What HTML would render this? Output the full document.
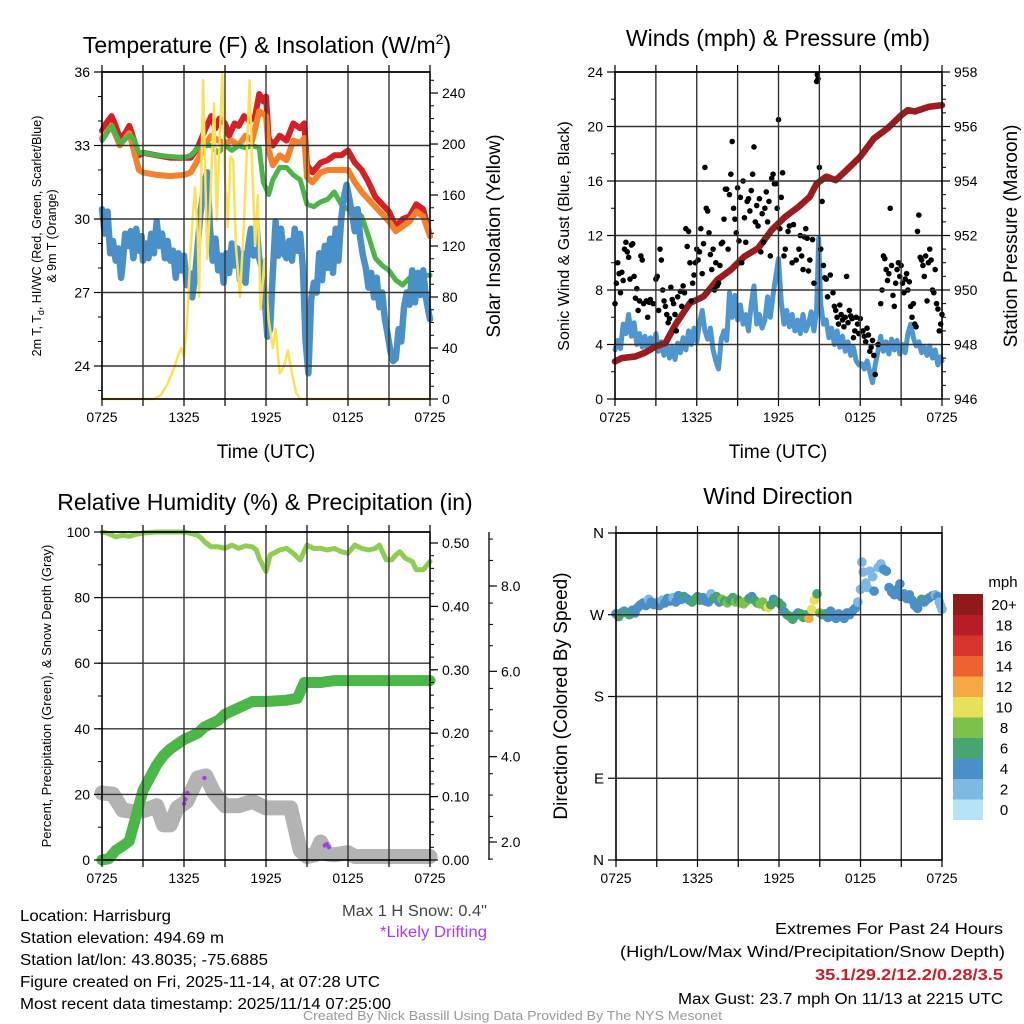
<!DOCTYPE html>
<html><head><meta charset="utf-8"><style>
html,body{margin:0;padding:0;background:#fff;}
svg{display:block;font-family:"Liberation Sans",sans-serif;}
</style></head><body>
<svg id="chart" width="1024" height="1024" viewBox="0 0 1024 1024" xmlns="http://www.w3.org/2000/svg">
<rect width="1024" height="1024" fill="#fff"/>
<g id="marks"></g>
<g id="frames"></g>
<text x="267" y="53" font-size="23" text-anchor="middle">Temperature (F) &amp; Insolation (W/m<tspan font-size="14" dy="-9">2</tspan><tspan dy="9">)</tspan></text>
<text x="778" y="46" font-size="23" text-anchor="middle">Winds (mph) &amp; Pressure (mb)</text>
<text x="265" y="510" font-size="23" text-anchor="middle">Relative Humidity (%) &amp; Precipitation (in)</text>
<text x="778" y="504" font-size="23" text-anchor="middle">Wind Direction</text>
<text x="266" y="458" font-size="19" text-anchor="middle">Time (UTC)</text>
<text x="778" y="458" font-size="19" text-anchor="middle">Time (UTC)</text>
<text transform="translate(41,236) rotate(-90)" font-size="12.5" text-anchor="middle">2m T, T<tspan font-size="9" dy="3">d</tspan><tspan dy="-3">, HI/WC (Red, Green, Scarlet/Blue)</tspan></text>
<text transform="translate(56,236) rotate(-90)" font-size="12.5" text-anchor="middle">&amp; 9m T (Orange)</text>
<text transform="translate(500,236) rotate(-90)" font-size="19" text-anchor="middle">Solar Insolation (Yellow)</text>
<text transform="translate(569,236) rotate(-90)" font-size="16" text-anchor="middle">Sonic Wind &amp; Gust (Blue, Black)</text>
<text transform="translate(1017,236) rotate(-90)" font-size="19" text-anchor="middle">Station Pressure (Maroon)</text>
<text transform="translate(51,696) rotate(-90)" font-size="13" text-anchor="middle">Percent, Precipitation (Green), &amp; Snow Depth (Gray)</text>
<text transform="translate(567,696) rotate(-90)" font-size="19" text-anchor="middle">Direction (Colored By Speed)</text>
<text x="1003" y="587" font-size="15" text-anchor="middle">mph</text>
<g font-size="15.5">
<text x="20" y="921" textLength="151" lengthAdjust="spacingAndGlyphs">Location: Harrisburg</text>
<text x="20" y="943" textLength="204" lengthAdjust="spacingAndGlyphs">Station elevation: 494.69 m</text>
<text x="20" y="965" textLength="248" lengthAdjust="spacingAndGlyphs">Station lat/lon: 43.8035; -75.6885</text>
<text x="20" y="987" textLength="360" lengthAdjust="spacingAndGlyphs">Figure created on Fri, 2025-11-14, at 07:28 UTC</text>
<text x="20" y="1009" textLength="371" lengthAdjust="spacingAndGlyphs">Most recent data timestamp: 2025/11/14 07:25:00</text>
<text x="342" y="916" textLength="145" lengthAdjust="spacingAndGlyphs" fill="#444">Max 1 H Snow: 0.4"</text>
<text x="380" y="937" textLength="107" lengthAdjust="spacingAndGlyphs" fill="#a83ef0">*Likely Drifting</text>
<text x="775" y="934" textLength="228" lengthAdjust="spacingAndGlyphs">Extremes For Past 24 Hours</text>
<text x="620" y="957" textLength="385" lengthAdjust="spacingAndGlyphs">(High/Low/Max Wind/Precipitation/Snow Depth)</text>
<text x="815" y="980" textLength="188" lengthAdjust="spacingAndGlyphs" fill="#c8202a" font-weight="bold">35.1/29.2/12.2/0.28/3.5</text>
<text x="678" y="1004" textLength="325" lengthAdjust="spacingAndGlyphs">Max Gust: 23.7 mph On 11/13 at 2215 UTC</text>
</g>
<text x="303" y="1020" font-size="12.5" textLength="419" lengthAdjust="spacingAndGlyphs" fill="#999">Created By Nick Bassill Using Data Provided By The NYS Mesonet</text>
</svg>
<script>
// ---------- DATA ----------
const xTickLabels = ["0725","1325","1925","0125","0725"];
const tempRed = [[0,33.6],[0.3,33.9],[0.7,34.2],[1,33.8],[1.3,33.3],[1.7,33.5],[2,33.8],[2.3,33.3],[2.7,32.6],[3,32.7],[4,32.6],[5,32.5],[6,32.5],[6.5,32.5],[7,32.9],[7.5,33.6],[8,34.2],[8.3,33.7],[8.6,34.1],[9,33.9],[9.3,33.4],[9.7,33.9],[10,33.8],[10.4,34.2],[10.8,34.0],[11.2,34.2],[11.5,35.1],[11.8,34.8],[12,35.0],[12.2,33.3],[12.5,33.0],[13,33.4],[13.5,33.2],[14,33.9],[14.5,33.7],[14.8,33.9],[15,32.2],[15.4,31.9],[16,32.3],[16.5,32.4],[17,32.6],[17.5,32.6],[18,32.8],[18.5,32.3],[19,32.0],[19.5,31.5],[20,30.9],[20.5,30.6],[21,30.3],[21.5,29.7],[22,30.0],[22.5,30.1],[23,30.6],[23.5,30.4],[24,29.3]];
const tempOrange = [[0,33.3],[0.7,33.8],[1.3,33.0],[2,33.5],[2.7,32.0],[3,31.9],[4,31.8],[5,31.75],[6,31.8],[6.5,31.9],[7,32.4],[7.5,33.0],[8,33.4],[8.5,33.2],[9,33.1],[9.5,33.2],[10,33.0],[10.5,33.4],[11,33.2],[11.5,34.4],[12,34.2],[12.2,32.8],[12.5,32.2],[13,32.6],[13.5,32.4],[14,33.2],[14.5,33.1],[14.8,33.3],[15,31.7],[15.4,31.5],[16,31.9],[16.5,32.0],[17,32.0],[18,32.0],[18.5,31.5],[19,31.1],[19.5,30.8],[20,30.5],[20.5,30.2],[21,29.9],[21.5,29.5],[22,29.7],[22.5,29.9],[23,30.3],[23.5,30.1],[24,29.3]];
const tempGreen = [[0,33.2],[0.7,33.8],[1.3,33.1],[2,33.4],[2.3,33.3],[2.7,32.7],[3,32.7],[4,32.6],[5,32.55],[6,32.5],[6.5,32.6],[7,32.9],[7.5,33.0],[8,33.0],[8.5,32.7],[9,33.0],[9.5,32.8],[10,33.0],[10.5,32.9],[11,33.0],[11.5,32.9],[11.8,31.5],[12.2,31.0],[12.5,31.6],[13,32.1],[13.5,32.1],[14,31.8],[14.5,31.6],[15,30.6],[15.5,30.5],[16,30.7],[16.5,30.8],[17,31.1],[17.5,30.6],[18,30.4],[18.5,30.4],[19,30.1],[19.5,29.3],[20,28.4],[20.5,28.1],[21,27.9],[21.5,27.5],[22,27.3],[22.5,27.6],[23,27.7],[24,27.7]];
const tempBlue = [[0,30.4],[0.2,29.4],[0.4,30.3],[0.6,28.6],[0.8,29.1],[1,28.3],[1.2,28.8],[1.4,27.6],[1.5,28.1],[1.7,29.4],[1.9,28.9],[2.1,29.5],[2.3,28.4],[2.5,29.6],[2.7,28.7],[2.9,29.3],[3,28.3],[3.2,29.0],[3.4,28.4],[3.6,29.4],[3.8,28.6],[4,29.9],[4.2,28.9],[4.4,29.4],[4.6,28.4],[4.8,29.1],[5,28.3],[5.2,28.7],[5.4,27.6],[5.6,28.6],[5.8,27.9],[6,28.5],[6.2,27.3],[6.4,27.8],[6.6,26.8],[6.8,27.6],[7,28.9],[7.2,30.2],[7.5,31.5],[7.7,31.9],[7.9,29.6],[8.1,28.3],[8.3,29.2],[8.5,27.9],[8.7,28.5],[8.9,27.4],[9.1,28.6],[9.3,27.8],[9.5,29.0],[9.7,28.1],[9.9,28.8],[10.1,27.5],[10.3,28.6],[10.5,27.4],[10.7,28.9],[10.9,29.6],[11.1,28.5],[11.3,29.8],[11.5,28.4],[11.7,28.0],[11.9,26.8],[12.1,25.2],[12.3,25.5],[12.5,27.8],[12.7,29.9],[12.9,28.5],[13.1,29.6],[13.3,28.6],[13.5,28.4],[13.7,29.1],[13.9,28.3],[14.1,29.6],[14.3,28.7],[14.5,29.4],[14.7,28.0],[14.9,25.0],[15.1,23.7],[15.3,26.7],[15.5,27.4],[15.7,27.0],[15.9,28.6],[16.1,27.5],[16.3,28.9],[16.5,28.0],[16.7,29.2],[16.9,27.8],[17.1,29.6],[17.3,28.3],[17.5,30.0],[17.7,30.9],[17.9,31.4],[18.1,30.8],[18.3,30.2],[18.5,29.5],[18.7,30.4],[18.9,29.2],[19.1,28.5],[19.3,28.0],[19.5,27.2],[19.7,27.8],[19.9,26.8],[20.1,27.6],[20.3,26.4],[20.5,27.0],[20.7,25.9],[20.9,25.3],[21.1,24.6],[21.3,24.2],[21.5,24.3],[21.7,25.5],[21.9,25.0],[22.1,26.4],[22.3,27.0],[22.5,26.5],[22.7,27.9],[22.9,26.6],[23.1,27.8],[23.3,26.9],[23.5,27.9],[23.7,26.8],[23.9,26.2],[24,25.9]];
const insolation = [[0,0],[3.8,0],[4.3,3],[4.8,12],[5.3,25],[5.6,35],[5.8,40],[6.0,33],[6.2,55],[6.5,120],[6.8,166],[7.0,130],[7.1,80],[7.4,250],[7.7,110],[7.9,150],[8.2,232],[8.4,140],[8.6,200],[8.8,255],[9.0,175],[9.2,135],[9.4,190],[9.6,187],[9.8,120],[10.1,80],[10.4,140],[10.8,250],[11.0,180],[11.2,120],[11.4,160],[11.6,70],[11.9,110],[12.2,62],[12.5,40],[12.7,55],[13.0,20],[13.3,25],[13.6,38],[13.9,20],[14.2,5],[14.5,0],[24,0]];
const pressure = [[0,947.38],[0.5,947.5],[1.5,947.56],[2.2,947.7],[3,947.93],[3.7,948.05],[4.5,948.78],[5.5,949.52],[6.5,949.76],[7.5,950.37],[8.5,950.74],[9.5,951.23],[10.5,951.53],[11.5,952.2],[12.5,952.69],[13.5,953.06],[14.3,953.42],[14.8,953.9],[15.5,954.16],[16.2,954.03],[17,954.4],[18,954.89],[19,955.56],[20,955.93],[21,956.41],[21.5,956.6],[22,956.55],[23,956.72],[24,956.78]];
const windSpeed = [[0,3.6],[0.2,4.3],[0.4,3.7],[0.6,5.5],[0.8,4.8],[1,6.2],[1.2,4.6],[1.4,5.6],[1.6,4.0],[1.8,4.8],[2,3.8],[2.2,4.6],[2.4,3.6],[2.6,4.5],[2.8,3.9],[3,4.8],[3.2,3.5],[3.4,4.2],[3.6,3.2],[3.8,4.0],[4,3.0],[4.2,3.8],[4.4,2.9],[4.6,4.1],[4.8,3.4],[5,4.5],[5.2,3.6],[5.4,5.0],[5.6,4.0],[5.8,5.2],[6,4.2],[6.2,5.6],[6.4,6.5],[6.6,5.0],[6.8,4.4],[7,5.2],[7.2,3.6],[7.4,2.8],[7.6,2.2],[7.8,4.4],[8,5.0],[8.2,4.3],[8.4,7.8],[8.6,6.0],[8.8,7.6],[9,5.8],[9.2,6.9],[9.4,5.5],[9.6,6.2],[9.8,5.0],[10,7.0],[10.2,8.3],[10.4,5.5],[10.6,6.2],[10.8,5.2],[11,5.8],[11.2,7.5],[11.4,6.0],[11.6,7.6],[11.8,9.0],[12,10.3],[12.2,7.2],[12.4,5.5],[12.6,6.5],[12.8,5.3],[13,6.2],[13.2,5.0],[13.4,5.8],[13.6,4.8],[13.8,6.2],[14,5.0],[14.2,5.5],[14.4,6.4],[14.6,5.0],[14.8,6.5],[14.95,11.8],[15.1,7.0],[15.3,5.5],[15.5,5.8],[15.7,4.5],[15.9,5.2],[16.1,4.0],[16.3,5.0],[16.5,3.8],[16.7,4.6],[16.9,3.5],[17.1,4.2],[17.3,3.2],[17.5,3.8],[17.7,2.8],[17.9,2.5],[18.1,2.6],[18.3,2.2],[18.5,2.8],[18.7,2.0],[18.9,1.2],[19.1,2.5],[19.3,3.5],[19.5,4.6],[19.7,3.5],[19.9,4.2],[20.1,3.3],[20.3,4.4],[20.5,3.6],[20.7,4.3],[20.9,3.3],[21.1,4.0],[21.3,3.4],[21.5,4.8],[21.7,5.5],[21.9,4.5],[22.1,3.9],[22.3,4.2],[22.5,3.4],[22.7,3.8],[22.9,3.2],[23.1,3.9],[23.3,3.0],[23.5,3.6],[23.7,2.5],[23.9,3.1],[24,2.8]];
const gustHours = [0,0.1,0.2,0.3,0.4,0.5,0.6,0.7,0.8,0.9,1.0,1.1,1.2,1.3,1.4,1.5,1.6,1.7,1.8,1.9,2.0,2.1,2.3,2.4,2.5,2.6,2.8,3.0,3.1,3.2,3.3,3.4,3.5,3.6,3.7,3.8,3.9,4.0,4.1,4.2,4.3,4.4,4.5,4.6,4.8,4.9,5.0,5.1,5.2,5.3,5.4,5.5,5.6,5.7,5.8,5.9,6.0,6.1,6.2,6.3,6.4,6.5,6.6,6.7,6.8,6.9,7.0,7.1,7.2,7.3,7.4,7.5,7.6,7.7,7.8,7.9,8.0,8.1,8.2,8.3,8.4,8.5,8.6,8.7,8.8,8.9,9.0,9.1,9.2,9.3,9.4,9.5,9.6,9.7,9.8,9.9,10.0,10.1,10.2,10.3,10.4,10.5,10.6,10.7,10.8,10.9,11.0,11.1,11.2,11.3,11.4,11.5,11.6,11.7,11.8,11.9,12.0,12.1,12.2,12.3,12.4,12.5,12.7,12.8,13.0,13.1,13.3,13.5,13.6,13.7,13.8,13.9,14.0,14.1,14.2,14.3,14.5,14.6,14.8,14.85,14.9,15.0,15.1,15.2,15.3,15.4,15.5,15.6,15.8,16.0,16.1,16.2,16.3,16.4,16.5,16.6,16.7,16.8,16.9,17.0,17.1,17.2,17.3,17.4,17.5,17.6,17.7,17.8,17.9,18.0,18.2,18.3,18.4,18.5,18.6,18.7,18.8,18.9,19.0,19.1,19.3,19.5,19.6,19.7,19.8,19.9,20.0,20.1,20.2,20.3,20.4,20.5,20.6,20.7,20.8,20.9,21.0,21.1,21.2,21.3,21.4,21.5,21.6,21.7,21.8,21.9,22.0,22.1,22.2,22.3,22.4,22.5,22.6,22.7,22.8,22.9,23.0,23.1,23.2,23.3,23.4,23.5,23.6,23.7,23.8,23.9,24.0];
const gustValues = [7.0,8.5,10.0,9.2,7.8,9.3,8.7,11.0,11.5,10.8,10.4,8.8,11.3,11.4,9.0,7.4,8.1,6.5,7.2,10.5,10.2,7.0,7.2,6.0,7.1,7.3,7.0,8.8,9.0,6.5,11.0,10.2,8.0,7.2,6.8,6.2,5.6,5.9,8.2,7.3,7.0,6.2,5.0,7.5,7.9,6.8,8.3,7.8,12.5,11.2,12.3,10.0,7.2,8.5,9.1,10.0,11.0,10.2,10.8,12.5,9.2,11.4,17.0,14.0,13.8,12.2,10.6,9.5,11.0,8.0,10.0,8.3,8.5,9.8,11.4,11.5,13.2,15.4,15.4,11.0,15.0,16.5,18.9,14.0,13.2,12.2,15.5,11.6,14.8,10.0,16.0,13.3,11.5,14.5,14.7,13.8,15.3,16.5,18.5,13.0,14.2,12.7,14.7,10.8,13.6,11.5,14.0,15.2,13.0,14.5,10.5,16.2,16.5,15.8,15.8,14.0,20.5,12.5,14.8,16.6,10.5,11.0,12.3,12.7,10.0,12.8,10.2,11.0,12.0,10.5,9.5,11.9,12.5,11.8,9.4,10.2,11.7,8.5,23.3,23.8,23.5,17.0,11.0,14.5,9.8,8.9,8.8,7.5,9.1,7.8,6.8,6.5,6.0,5.5,6.9,6.2,5.8,5.3,6.0,9.0,5.6,6.5,6.1,5.9,4.5,5.0,6.0,5.5,4.8,5.9,5.0,4.6,4.2,5.2,4.7,3.5,3.8,4.3,3.2,1.8,4.0,7.0,8.0,10.5,10.3,9.5,8.7,9.2,14.0,9.8,7.6,6.8,8.5,9.5,10.0,9.0,9.8,8.5,7.8,8.8,9.2,8.0,8.6,6.8,6.0,7.0,5.5,5.3,12.3,13.5,10.4,10.2,9.8,9.0,10.5,7.2,10.0,11.0,10.2,8.0,7.8,9.5,7.0,6.6,5.0,5.5,6.2];
const humidity = [[0,100],[0.5,99.5],[1,98.5],[1.5,99],[2,98.7],[2.5,99.3],[3,99.7],[4,100],[5,100],[6,100],[6.5,99.6],[7,99],[7.3,98],[7.5,97],[8,95.5],[8.5,95.5],[9,95],[9.5,96],[10,95],[10.5,95.8],[11,95.5],[11.3,94.5],[11.5,92],[12,88],[12.3,93],[13,94.5],[13.5,95],[14,93.5],[14.5,91.5],[15,96],[15.5,95],[16,95],[16.5,94.5],[17,95],[17.5,94],[18,93.5],[18.5,96],[19,95],[19.5,94.5],[20,95],[20.3,96],[20.8,91.5],[21.2,91.5],[21.5,93],[21.8,94],[22.2,92],[22.7,91],[23,88.5],[23.5,88.5],[24,91]];
const precip = [[0,0],[0.5,0.002],[1,0.015],[1.5,0.022],[2,0.03],[2.5,0.07],[3,0.11],[3.5,0.13],[4,0.15],[4.5,0.165],[5,0.175],[6,0.19],[7,0.2],[7.5,0.21],[8.5,0.22],[9,0.23],[9.5,0.235],[10.5,0.245],[11,0.25],[12,0.25],[13.5,0.252],[14.3,0.255],[14.6,0.27],[14.8,0.28],[16,0.28],[17,0.283],[24,0.283]];
const snowDepth = [[0,3.15],[0.8,3.12],[1.5,2.75],[2.5,2.7],[3.2,2.75],[4,2.85],[4.5,2.4],[5,2.4],[5.5,2.8],[6.2,2.95],[7,3.5],[7.6,3.55],[8.2,3.15],[9,2.85],[10,2.85],[11,2.95],[12,2.8],[13,2.8],[13.8,2.8],[14.5,1.8],[15,1.66],[15.6,1.7],[16,2.0],[16.5,1.72],[17,1.7],[18,1.75],[18.5,1.66],[24,1.66]];
const driftHours = [6.0,6.1,6.25,7.5,16.3,16.45,16.6];
const driftDepth = [2.9,3.0,3.15,3.5,1.92,1.95,1.88];
const dirHours = [0,0.2,0.4,0.6,0.8,1,1.2,1.4,1.6,1.8,2,2.2,2.4,2.6,2.8,3,3.2,3.4,3.6,3.8,4,4.2,4.4,4.6,4.8,5,5.2,5.4,5.6,5.8,6,6.2,6.4,6.6,6.8,7,7.2,7.4,7.6,7.8,8,8.2,8.4,8.6,8.8,9,9.2,9.4,9.6,9.8,10,10.2,10.4,10.6,10.8,11,11.2,11.4,11.6,11.8,12,12.2,12.4,12.6,12.8,13,13.2,13.4,13.6,13.8,14,14.2,14.4,14.6,14.8,15,15.2,15.4,15.6,15.8,16,16.2,16.4,16.6,16.8,17,17.2,17.4,17.6,17.8,18,18.1,18.2,18.4,18.5,18.7,18.9,19,19.3,19.5,19.7,19.9,20.1,20.3,20.5,20.7,20.9,21,21.2,21.4,21.6,21.8,22,22.2,22.3,22.5,22.7,22.9,23.1,23.3,23.5,23.7,23.8,23.9,24];
const dirDegrees = [271,268,272,274,272,270,275,272,278,281,283,280,287,284,281,283,280,286,283,288,285,289,284,291,287,290,288,286,284,287,290,286,289,285,284,293,288,290,284,287,285,283,286,289,284,286,283,282,285,288,290,286,283,282,284,279,278,281,287,284,283,280,273,270,268,265,269,272,271,267,270,266,276,286,293,272,270,271,267,274,268,266,271,268,266,272,270,274,277,284,298,328,317,305,300,318,312,296,322,326,320,318,300,295,292,298,304,290,293,288,292,286,280,277,283,287,284,287,289,291,292,290,284,280,276];
const dirSpeeds = [4,6,6,4,6,6,4,4,4,4,4,4,2,4,4,4,4,2,4,4,4,2,4,4,4,6,4,4,6,6,6,6,4,4,4,2,6,6,4,8,6,8,6,6,8,6,8,8,8,6,4,6,6,8,8,8,10,6,4,6,6,6,4,6,6,6,6,4,6,6,6,12,10,10,6,8,6,6,4,4,4,4,4,4,4,4,4,4,4,2,2,2,2,2,2,2,2,4,2,2,4,4,4,4,4,4,4,4,4,4,4,4,4,4,4,6,4,4,4,4,2,4,2,2,2,2];
const speedBinLabels = ["0","2","4","6","8","10","12","14","16","18","20+"];
const speedBinColors = ["#b5e3f6","#7db9e3","#4a8fc7","#48a56f","#7cc24a","#e6e05a","#f6a844","#ee6230","#d9342b","#b81d25","#8f1a1a"];

// ---------- HELPERS ----------
const NS = "http://www.w3.org/2000/svg";
const marks = document.getElementById("marks");
const frames = document.getElementById("frames");
function mk(tag, attrs, parent){
  const e = document.createElementNS(NS, tag);
  for (const k in attrs) e.setAttribute(k, attrs[k]);
  (parent||marks).appendChild(e);
  return e;
}
function lin(d0,d1,r0,r1){ return v => r0 + (v-d0)*(r1-r0)/(d1-d0); }

const P1 = {x0:102,x1:430,y0:72,y1:399};
const P2 = {x0:615,x1:942,y0:72,y1:399};
const P3 = {x0:102,x1:430,y0:532,y1:860};
const P4 = {x0:616,x1:942,y0:533,y1:860};
function xs(P){ return lin(0,24,P.x0,P.x1); }

const tY = lin(22.653,36,399,72);
const iY = lin(0,256.5,399,72);
const wY = lin(0,24,399,72);
const pY = lin(946,958,399,72);
const rY = lin(0,100,860,532);
const prY = lin(0,0.5,860,543);
const sY = lin(2,8,842,586);
const dY = lin(0,360,860,533);

function pathOf(data, X, Y){
  return data.map((p,i)=>(i?"L":"M")+X(p[0]).toFixed(1)+","+Y(p[1]).toFixed(1)).join("");
}
function line(data,X,Y,color,w,name){
  const e = mk("path",{d:pathOf(data,X,Y),fill:"none",stroke:color,"stroke-width":w,"stroke-linejoin":"round","stroke-linecap":"round"});
  
  
  return e;
}

// ---------- FRAMES, GRID, TICKS ----------
function panelFrame(P, hGrid, name){
  const g = mk("g",{},frames);
  
  
  const X = xs(P);
  for (let k=1;k<8;k++){
    const x = X(k*3);
    const gl = mk("line",{x1:x,x2:x,y1:P.y0,y2:P.y1,stroke:"#333","stroke-width":1.4},g);
    
    
  }
  hGrid.forEach(y=>{
    const gl = mk("line",{x1:P.x0,x2:P.x1,y1:y,y2:y,stroke:"#333","stroke-width":1.4},g);
    
    
  });
  for (let k=0;k<=8;k++){
    const x = X(k*3);
    const t1 = mk("line",{x1:x,x2:x,y1:P.y1,y2:P.y1+7,stroke:"#000","stroke-width":1.2},g);
    
    
    const t2 = mk("line",{x1:x,x2:x,y1:P.y0,y2:P.y0-7,stroke:"#000","stroke-width":1.2},g);
    
    
  }
  xTickLabels.forEach((lab,i)=>{
    const t = mk("text",{x:X(i*6),y:P.y1+23,"font-size":14,"text-anchor":"middle"},g);
    t.textContent = lab;
    
    
  });
  const r = mk("rect",{x:P.x0,y:P.y0,width:P.x1-P.x0,height:P.y1-P.y0,fill:"none",stroke:"#000","stroke-width":1.6},g);
  
  
  return g;
}
function yAxis(g, x, dir, Y, majors, labels, minors, fs, name){
  majors.forEach((v,i)=>{
    const y = Y(v);
    const t = mk("line",{x1:x,x2:x+dir*8,y1:y,y2:y,stroke:"#000","stroke-width":1.2},g);
    
    
    const l = mk("text",{x:x+dir*12,y:y+5,"font-size":fs,"text-anchor":dir<0?"end":"start"},g);
    l.textContent = labels[i];
    
    
  });
  minors.forEach(v=>{
    const y = Y(v);
    const t = mk("line",{x1:x,x2:x+dir*4,y1:y,y2:y,stroke:"#000","stroke-width":1},g);
    
    
  });
}
function range(a,b,s){ const r=[]; for(let v=a; v<=b+1e-9; v+=s) r.push(+v.toFixed(4)); return r; }

let g1 = panelFrame(P1, [24,27,30,33,36].map(tY), "temperature");
yAxis(g1, P1.x0, -1, tY, [24,27,30,33,36], ["24","27","30","33","36"], range(23,35,1), 14, "temp-y");
yAxis(g1, P1.x1, 1, iY, [0,40,80,120,160,200,240], ["0","40","80","120","160","200","240"], range(10,250,10), 14, "insolation-y");
let g2 = panelFrame(P2, [4,8,12,16,20,24].map(wY), "winds");
yAxis(g2, P2.x0, -1, wY, [0,4,8,12,16,20,24], ["0","4","8","12","16","20","24"], range(2,22,2), 14, "wind-y");
yAxis(g2, P2.x1, 1, pY, [946,948,950,952,954,956,958], ["946","948","950","952","954","956","958"], range(946.5,957.5,0.5), 14, "pressure-y");
let g3 = panelFrame(P3, [20,40,60,80,100].map(rY), "humidity");
yAxis(g3, P3.x0, -1, rY, [0,20,40,60,80,100], ["0","20","40","60","80","100"], range(10,90,10), 14, "humidity-y");
yAxis(g3, P3.x1, 1, prY, [0,0.1,0.2,0.3,0.4,0.5], ["0.00","0.10","0.20","0.30","0.40","0.50"], range(0.02,0.5,0.02), 14, "precip-y");
const snowAx = mk("line",{x1:489,x2:489,y1:532,y2:860,stroke:"#000","stroke-width":1.3},g3);


yAxis(g3, 489, 1, sY, [2,4,6,8], ["2.0","4.0","6.0","8.0"], range(1.6,9.2,0.5).filter(v=>Math.abs(v-Math.round(v/2)*2)>0.1), 14, "snow-y");
let g4 = panelFrame(P4, [90,180,270,360].map(dY), "direction");
yAxis(g4, P4.x0, -1, dY, [0,90,180,270,360], ["N","E","S","W","N"], [], 15, "direction-y");

// ---------- MARKS ----------
const X1 = xs(P1), X2 = xs(P2), X3 = xs(P3), X4 = xs(P4);
line(tempRed, X1, tY, "#d42127", 6, "heat-index-line-red");
line(tempOrange, X1, tY, "#f5822a", 6, "temp-9m-line-orange");
line(tempGreen, X1, tY, "#4bb548", 5, "dewpoint-line-green");
line(tempBlue, X1, tY, "#4a90c8", 6.5, "wind-chill-line-blue");
line(insolation, X1, iY, "#fbe157", 2.5, "insolation-line-yellow");

line(windSpeed, X2, wY, "#4f96d0", 5, "sonic-wind-line");
line(pressure, X2, pY, "#9b1b1f", 6.5, "pressure-line");
gustHours.forEach((h,i)=>{
  const c = mk("circle",{cx:X2(h),cy:wY(gustValues[i]),r:2.8,fill:"#000"});
  
  
});

line(snowDepth, X3, sY, "#b3b3b3", 15, "snow-depth-line");
line(precip, X3, prY, "#4bb748", 11, "precipitation-line");
line(humidity, X3, rY, "#8fcc52", 5, "humidity-line");
driftHours.forEach((h,i)=>{
  const c = mk("circle",{cx:X3(h),cy:sY(driftDepth[i]),r:2.2,fill:"#a23fe0"});
  
  
});

dirHours.forEach((h,i)=>{
  const idx = Math.max(0, Math.min(10, Math.floor(dirSpeeds[i]/2)));
  const c = mk("circle",{cx:X4(h),cy:dY(dirDegrees[i]),r:4.8,fill:speedBinColors[idx]});
  
  
});

const cbTop = 594, cbH = 20.5;
speedBinColors.forEach((col,i)=>{
  const k = 10 - i;
  const r = mk("rect",{x:953,y:cbTop+k*cbH,width:30,height:cbH+0.5,fill:col});
  
  
  const t = mk("text",{x:1004,y:cbTop+k*cbH+16,"font-size":15,"text-anchor":"middle"});
  t.textContent = speedBinLabels[i];
  
  
});
</script>
</body></html>
